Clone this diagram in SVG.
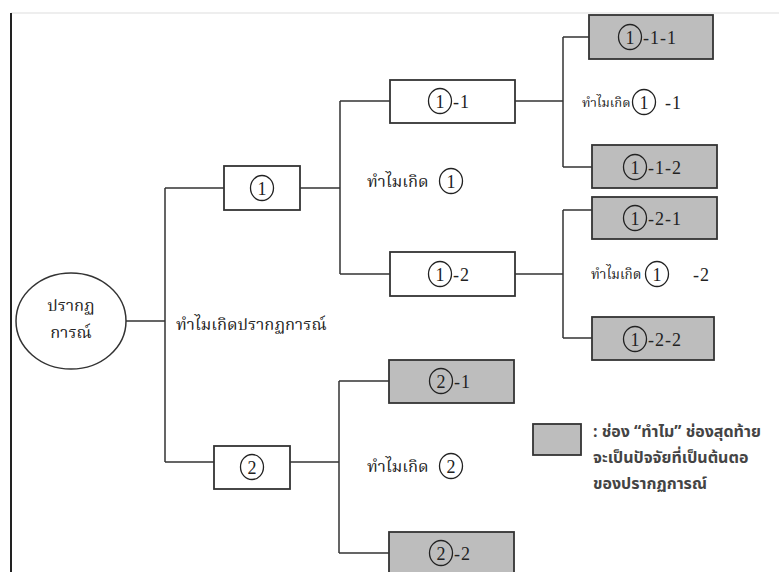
<svg xmlns="http://www.w3.org/2000/svg" width="779" height="572" viewBox="0 0 779 572">
<style>
.box{fill:#ffffff;stroke:#333;stroke-width:1.8}
.gbox{fill:#bdbdbd;stroke:#333;stroke-width:1.8}
.cn{fill:none;stroke:#333;stroke-width:1.5}
.circ{fill:none;stroke:#222;stroke-width:1.3}
.num{font-family:"Liberation Serif",serif;font-size:18px;fill:#222}
.suf{font-family:"Liberation Serif",serif;font-size:18px;fill:#222;letter-spacing:1px}
.th{font-family:"Noto Serif Thai","Noto Sans Thai","Liberation Serif",serif;font-size:16.5px;fill:#222}
.leg{font-family:"Noto Sans Thai","Noto Sans","Liberation Sans",sans-serif;font-size:16px;fill:#444;font-weight:bold}
</style>
<rect x="0" y="0" width="779" height="572" fill="#fff"/>
<line x1="11" y1="13" x2="779" y2="13" stroke="#ddd" stroke-width="1"/>
<line x1="11" y1="13" x2="11" y2="572" stroke="#222" stroke-width="2"/>

<g id="connectors">
<path class="cn" d="M126 321 H165 M165 188 V462 M165 188 H224 M165 462 H214"/>
<path class="cn" d="M300 188 H340 M340 101 V274 M340 101 H390 M340 274 H390"/>
<path class="cn" d="M515 101 H563 M563 37 V167 M563 37 H589 M563 167 H592"/>
<path class="cn" d="M515 274 H563 M563 210 V338 M563 210 H592 M563 338 H592"/>
<path class="cn" d="M290 462 H339 M339 381 V553 M339 381 H389 M339 553 H389"/>
</g>

<g id="root">
<ellipse cx="71" cy="321" rx="55" ry="48" fill="#fff" stroke="#333" stroke-width="1.5"/>
<text class="th" x="71" y="311" text-anchor="middle">ปรากฏ</text>
<text class="th" x="71" y="338" text-anchor="middle">การณ์</text>
</g>
<text class="th" x="176" y="330">ทำไมเกิดปรากฏการณ์</text>

<g id="n1">
<rect class="box" x="224" y="166" width="76" height="44"/>
<ellipse class="circ" cx="262" cy="188" rx="11.5" ry="12.5"/>
<text class="num" x="262" y="194.5" text-anchor="middle">1</text>
</g>
<g id="lbl1">
<text class="th" x="367" y="187">ทำไมเกิด</text>
<ellipse class="circ" cx="451" cy="181" rx="11.5" ry="12.5"/>
<text class="num" x="451" y="187.5" text-anchor="middle">1</text>
</g>

<g id="n1-1">
<rect class="box" x="390" y="80" width="125" height="43"/>
<ellipse class="circ" cx="440" cy="101" rx="11.5" ry="12.5"/>
<text class="num" x="440" y="107.5" text-anchor="middle">1</text>
<text class="suf" x="453" y="107.5">-1</text>
</g>
<g id="lbl1-1">
<text class="th" x="582" y="107" style="font-size:13px">ทำไมเกิด</text>
<ellipse class="circ" cx="644" cy="102" rx="11.5" ry="12.5"/>
<text class="num" x="644" y="108.5" text-anchor="middle">1</text>
<text class="suf" x="665" y="108.5">-1</text>
</g>

<g id="n1-1-1">
<rect class="gbox" x="589" y="15" width="124" height="44"/>
<ellipse class="circ" cx="630" cy="37" rx="11.5" ry="12.5"/>
<text class="num" x="630" y="43.5" text-anchor="middle">1</text>
<text class="suf" x="643" y="43.5">-1-1</text>
</g>
<g id="n1-1-2">
<rect class="gbox" x="592" y="145" width="125" height="43"/>
<ellipse class="circ" cx="635" cy="167" rx="11.5" ry="12.5"/>
<text class="num" x="635" y="173.5" text-anchor="middle">1</text>
<text class="suf" x="648" y="173.5">-1-2</text>
</g>

<g id="n1-2">
<rect class="box" x="390" y="252" width="125" height="44"/>
<ellipse class="circ" cx="440" cy="274" rx="11.5" ry="12.5"/>
<text class="num" x="440" y="280.5" text-anchor="middle">1</text>
<text class="suf" x="453" y="280.5">-2</text>
</g>
<g id="lbl1-2">
<text class="th" x="591" y="279" style="font-size:13.5px">ทำไมเกิด</text>
<ellipse class="circ" cx="657" cy="274" rx="11.5" ry="12.5"/>
<text class="num" x="657" y="280.5" text-anchor="middle">1</text>
<text class="suf" x="693" y="280.5">-2</text>
</g>

<g id="n1-2-1">
<rect class="gbox" x="592" y="197" width="125" height="42"/>
<ellipse class="circ" cx="635" cy="218" rx="11.5" ry="12.5"/>
<text class="num" x="635" y="224.5" text-anchor="middle">1</text>
<text class="suf" x="648" y="224.5">-2-1</text>
</g>
<g id="n1-2-2">
<rect class="gbox" x="592" y="317" width="122" height="43"/>
<ellipse class="circ" cx="635" cy="339" rx="11.5" ry="12.5"/>
<text class="num" x="635" y="345.5" text-anchor="middle">1</text>
<text class="suf" x="648" y="345.5">-2-2</text>
</g>

<g id="n2">
<rect class="box" x="214" y="446" width="76" height="43"/>
<ellipse class="circ" cx="252" cy="467" rx="11.5" ry="12.5"/>
<text class="num" x="252" y="473.5" text-anchor="middle">2</text>
</g>
<g id="lbl2">
<text class="th" x="367" y="472">ทำไมเกิด</text>
<ellipse class="circ" cx="451" cy="466" rx="11.5" ry="12.5"/>
<text class="num" x="451" y="472.5" text-anchor="middle">2</text>
</g>

<g id="n2-1">
<rect class="gbox" x="389" y="360" width="125" height="43"/>
<ellipse class="circ" cx="441" cy="381" rx="11.5" ry="12.5"/>
<text class="num" x="441" y="387.5" text-anchor="middle">2</text>
<text class="suf" x="454" y="387.5">-1</text>
</g>
<g id="n2-2">
<rect class="gbox" x="389" y="532" width="125" height="44"/>
<ellipse class="circ" cx="441" cy="553" rx="11.5" ry="12.5"/>
<text class="num" x="441" y="559.5" text-anchor="middle">2</text>
<text class="suf" x="454" y="559.5">-2</text>
</g>

<g id="legend">
<rect class="gbox" x="533" y="424" width="48" height="31"/>
<text class="leg" x="593" y="437">: ช่อง “ทำไม” ช่องสุดท้าย</text>
<text class="leg" x="593" y="463">จะเป็นปัจจัยที่เป็นต้นตอ</text>
<text class="leg" x="593" y="489">ของปรากฏการณ์</text>
</g>
</svg>
